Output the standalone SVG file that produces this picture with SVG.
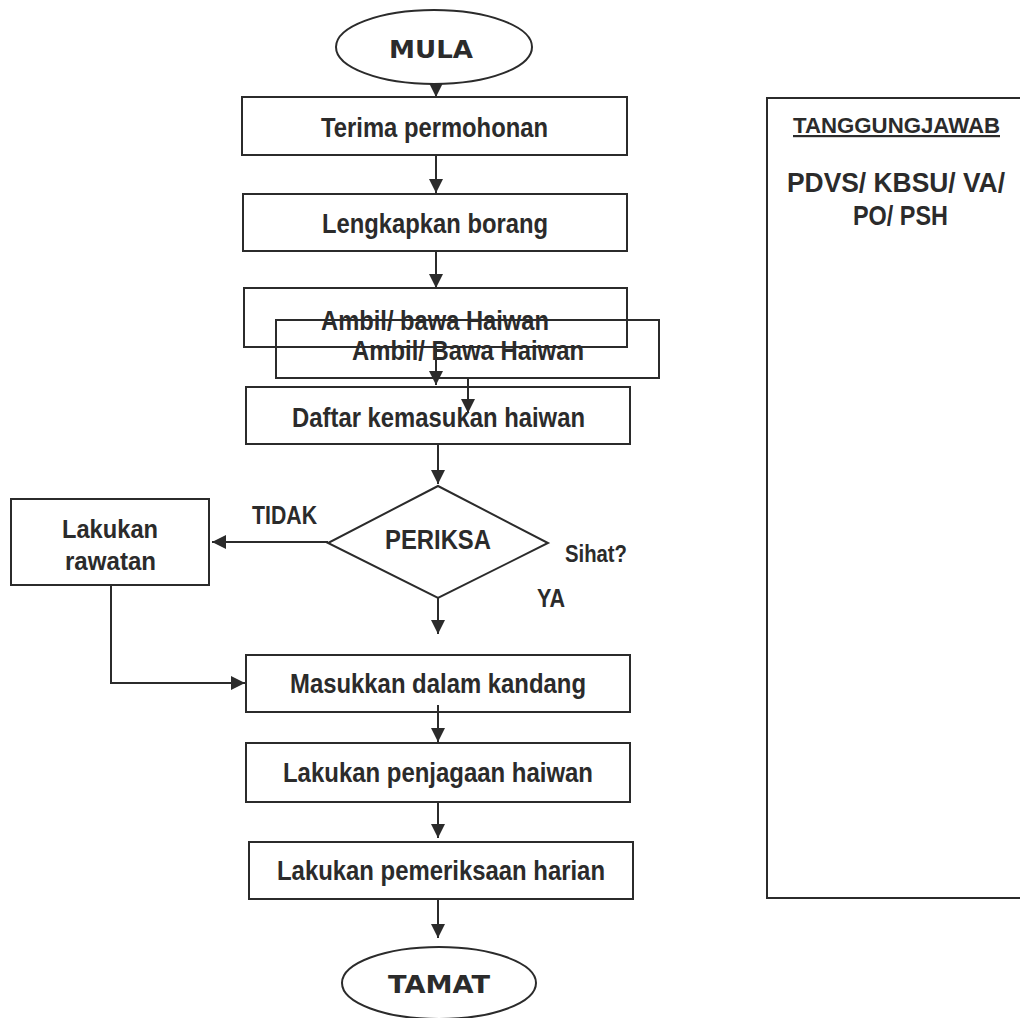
<svg xmlns="http://www.w3.org/2000/svg" width="1020" height="1018" viewBox="0 0 1020 1018">
<style>
.shape{fill:none;stroke:#2b2b2b;stroke-width:2}
.conn{fill:none;stroke:#2b2b2b;stroke-width:2}
.t{font-family:"Liberation Sans",Arial,sans-serif;font-weight:bold;fill:#2b2b2b;text-anchor:middle}
.box{font-size:28px}
.term{font-family:"DejaVu Sans","Liberation Sans",sans-serif;font-weight:900;font-size:25px}
.lbl{font-size:25px}
</style>
<defs>
<marker id="arr" viewBox="0 0 14 14" refX="14" refY="7" markerWidth="14" markerHeight="14" markerUnits="userSpaceOnUse" orient="auto">
<path d="M0,0 L14,7 L0,14 z" fill="#2b2b2b"/>
</marker>
</defs>
<rect width="1020" height="1018" fill="#ffffff"/>

<g id="connectors">
<line class="conn" x1="436" y1="84" x2="436" y2="97" marker-end="url(#arr)"/>
<line class="conn" x1="436" y1="155" x2="436" y2="193" marker-end="url(#arr)"/>
<line class="conn" x1="436" y1="251" x2="436" y2="288" marker-end="url(#arr)"/>
<line class="conn" x1="436" y1="347" x2="436" y2="385" marker-end="url(#arr)"/>
<line class="conn" x1="468" y1="378" x2="468" y2="413" marker-end="url(#arr)"/>
<line class="conn" x1="438" y1="445" x2="438" y2="484" marker-end="url(#arr)"/>
<line class="conn" x1="328" y1="542" x2="212" y2="542" marker-end="url(#arr)"/>
<line class="conn" x1="438" y1="598" x2="438" y2="634" marker-end="url(#arr)"/>
<polyline class="conn" points="111,585 111,683 245,683" marker-end="url(#arr)"/>
<line class="conn" x1="438" y1="705" x2="438" y2="742" marker-end="url(#arr)"/>
<line class="conn" x1="438" y1="802" x2="438" y2="838" marker-end="url(#arr)"/>
<line class="conn" x1="438" y1="899" x2="438" y2="938" marker-end="url(#arr)"/>
</g>

<g id="mula">
<ellipse class="shape" cx="434" cy="47" rx="98" ry="37"/>
<text class="t term" x="431" y="58" textLength="84" lengthAdjust="spacingAndGlyphs">MULA</text>
</g>
<g id="terima">
<rect class="shape" x="242" y="97" width="385" height="58"/>
<text class="t box" x="434.5" y="137" textLength="227" lengthAdjust="spacingAndGlyphs">Terima permohonan</text>
</g>
<g id="lengkapkan">
<rect class="shape" x="243" y="194" width="384" height="57"/>
<text class="t box" x="435" y="233" textLength="226" lengthAdjust="spacingAndGlyphs">Lengkapkan borang</text>
</g>
<g id="ambil1">
<rect class="shape" x="244" y="288" width="383" height="59"/>
<text class="t box" x="435" y="330" textLength="228" lengthAdjust="spacingAndGlyphs">Ambil/ bawa Haiwan</text>
</g>
<g id="ambil2">
<rect class="shape" x="276" y="320" width="383" height="58"/>
<text class="t box" x="468" y="360" textLength="232" lengthAdjust="spacingAndGlyphs">Ambil/ Bawa Haiwan</text>
</g>
<g id="daftar">
<rect class="shape" x="246" y="387" width="384" height="57"/>
<text class="t box" x="438.5" y="427" textLength="293" lengthAdjust="spacingAndGlyphs">Daftar kemasukan haiwan</text>
</g>
<g id="periksa">
<polygon class="shape" points="438,486 548,543 438,598 328,543"/>
<text class="t" x="438" y="549" font-size="27" textLength="106" lengthAdjust="spacingAndGlyphs">PERIKSA</text>
</g>
<g id="labels">
<text class="t lbl" x="284.5" y="524" textLength="65" lengthAdjust="spacingAndGlyphs">TIDAK</text>
<text class="t" x="596" y="562" font-size="24" textLength="62" lengthAdjust="spacingAndGlyphs">Sihat?</text>
<text class="t lbl" x="551" y="607" textLength="28" lengthAdjust="spacingAndGlyphs">YA</text>
</g>
<g id="rawatan">
<rect class="shape" x="11" y="499" width="198" height="86"/>
<text class="t" x="110" y="538" font-size="26" textLength="96" lengthAdjust="spacingAndGlyphs">Lakukan</text>
<text class="t" x="110.5" y="570" font-size="26" textLength="91" lengthAdjust="spacingAndGlyphs">rawatan</text>
</g>
<g id="masukkan">
<rect class="shape" x="246" y="655" width="384" height="57"/>
<text class="t box" x="438" y="693" textLength="296" lengthAdjust="spacingAndGlyphs">Masukkan dalam kandang</text>
</g>
<g id="penjagaan">
<rect class="shape" x="246" y="743" width="384" height="59"/>
<text class="t box" x="438" y="782" textLength="310" lengthAdjust="spacingAndGlyphs">Lakukan penjagaan haiwan</text>
</g>
<g id="pemeriksaan">
<rect class="shape" x="249" y="842" width="384" height="57"/>
<text class="t box" x="441" y="880" textLength="328" lengthAdjust="spacingAndGlyphs">Lakukan pemeriksaan harian</text>
</g>
<g id="tamat">
<ellipse class="shape" cx="439" cy="983" rx="97" ry="36"/>
<text class="t term" x="439" y="993" textLength="102" lengthAdjust="spacingAndGlyphs">TAMAT</text>
</g>
<g id="tanggungjawab">
<rect class="shape" x="767" y="98" width="300" height="800"/>
<text class="t" x="896.5" y="133" font-size="22" text-decoration="underline" textLength="207" lengthAdjust="spacingAndGlyphs">TANGGUNGJAWAB</text>
<text class="t" x="896" y="192" font-size="27" textLength="218" lengthAdjust="spacingAndGlyphs">PDVS/ KBSU/ VA/</text>
<text class="t" x="900.5" y="225" font-size="28" textLength="95" lengthAdjust="spacingAndGlyphs">PO/ PSH</text>
</g>
</svg>
